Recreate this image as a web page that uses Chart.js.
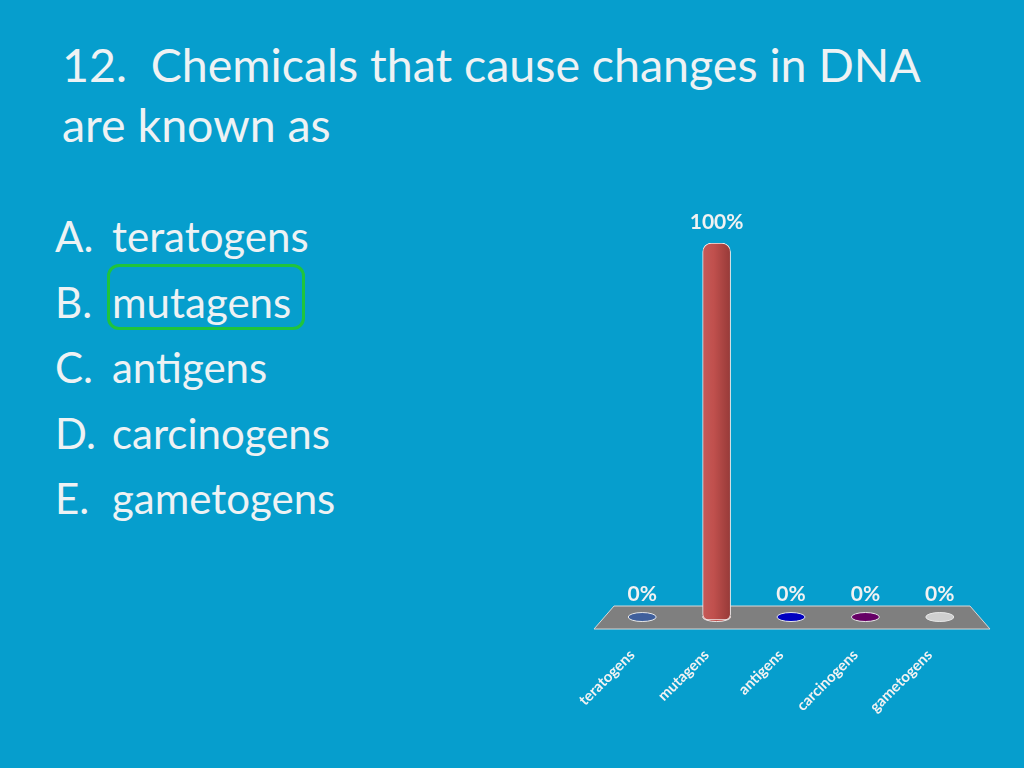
<!DOCTYPE html>
<html>
<head>
<meta charset="utf-8">
<script src="https://cdn.jsdelivr.net/npm/chart.js@4/dist/chart.umd.min.js"></script>
<style>
  body { margin: 0; width: 1024px; height: 768px; background: #069ECD; overflow: hidden; font-family: Lato, "Open Sans", sans-serif; color: #EEF2F4; }
  .title { position: absolute; left: 62px; top: 34px; font-size: 46.5px; line-height: 60px; }
  .answers { position: absolute; left: 55px; top: 204px; font-size: 42px; line-height: 65.5px; }
  .answers span { display: inline-block; width: 57px; }
  .box { position: absolute; left: 107px; top: 264px; width: 192px; height: 60px; border: 3px solid #1FC43C; border-radius: 12px; }
  #wrap { position: absolute; left: 540px; top: 190px; width: 480px; height: 559px; }
</style>
</head>
<body>
<div class="title">12.&nbsp; Chemicals that cause changes in DNA<br>are known as</div>
<div class="answers">
  <div><span>A.</span>teratogens</div>
  <div><span>B.</span>mutagens</div>
  <div><span>C.</span>antigens</div>
  <div><span>D.</span>carcinogens</div>
  <div><span>E.</span>gametogens</div>
</div>
<div class="box"></div>
<div id="wrap"><canvas id="myBarChart"></canvas></div>
<script>
// responses per answer, percent
const categories = ["teratogens", "mutagens", "antigens", "carcinogens", "gametogens"];
const percents = [0, 100, 0, 0, 0];
const barColors = ["#3F5F9C", "#C0504D", "#0000C0", "#660066", "#CFCFCF"];

// grey 3D floor under the bars
const floorPlugin = {
  id: "floor",
  beforeDatasetsDraw(chart) {
    const { ctx, chartArea } = chart;
    const b = chartArea.bottom;
    ctx.save();
    ctx.beginPath();
    ctx.moveTo(chartArea.left + 9, b - 14);
    ctx.lineTo(chartArea.right - 7, b - 14);
    ctx.lineTo(chartArea.right + 13, b + 9);
    ctx.lineTo(chartArea.left - 11, b + 9);
    ctx.closePath();
    ctx.fillStyle = "#7F7F7F";
    ctx.fill();
    ctx.strokeStyle = "#D8D8D8";
    ctx.lineWidth = 1;
    ctx.stroke();
    // flat discs at the base of each bar
    const meta = chart.getDatasetMeta(0);
    meta.data.forEach((bar, i) => {
      ctx.beginPath();
      ctx.ellipse(bar.x, b - 3, 14, 4.5, 0, 0, Math.PI * 2);
      ctx.fillStyle = barColors[i];
      ctx.fill();
      ctx.strokeStyle = "#E8E8E8";
      ctx.stroke();
    });
    ctx.restore();
  },
  afterDatasetsDraw(chart) {
    const { ctx } = chart;
    const meta = chart.getDatasetMeta(0);
    ctx.save();
    ctx.font = "bold 21px Lato, sans-serif";
    ctx.fillStyle = "#F2F2F2";
    ctx.textAlign = "center";
    ctx.textBaseline = "middle";
    meta.data.forEach((bar, i) => {
      const off = percents[i] === 0 ? 26 : 21;
      ctx.fillText(percents[i] + "%", bar.x, Math.min(bar.y, bar.base) - off);
    });
    ctx.restore();
  },
};

const ctx = document.getElementById("myBarChart");
new Chart(ctx, {
  type: "bar",
  data: {
    labels: categories,
    datasets: [
      {
        data: percents,
        backgroundColor: (c) => {
          const x = c.chart.scales.x ? c.chart.scales.x.getPixelForValue(c.dataIndex) : NaN;
          if (c.dataIndex !== 1 || !Number.isFinite(x)) return barColors[c.dataIndex];
          const g = c.chart.ctx.createLinearGradient(x - 14, 0, x + 14, 0);
          g.addColorStop(0, "#C55A58");
          g.addColorStop(0.4, "#C0504D");
          g.addColorStop(1, "#963A38");
          return g;
        },
        borderColor: "#F0E8E8",
        borderWidth: 1,
        borderSkipped: false,
        borderRadius: { topLeft: 9, topRight: 9, bottomLeft: 6, bottomRight: 6 },
        barThickness: 28,
      },
    ],
  },
  options: {
    responsive: true,
    maintainAspectRatio: false,
    animation: false,
    layout: { padding: { top: 53, left: 65, right: 43, bottom: 15 } },
    plugins: { legend: { display: false }, tooltip: { enabled: false } },
    scales: {
      y: { display: false, min: 0, max: 100 },
      x: {
        grid: { display: false },
        border: { display: false },
        ticks: {
          color: "#F2F2F2",
          font: { family: "Lato", size: 15, weight: "bold" },
          minRotation: 45,
          maxRotation: 45,
          padding: 18,
          labelOffset: -10,
        },
      },
    },
  },
  plugins: [floorPlugin],
});
</script>
</body>
</html>
